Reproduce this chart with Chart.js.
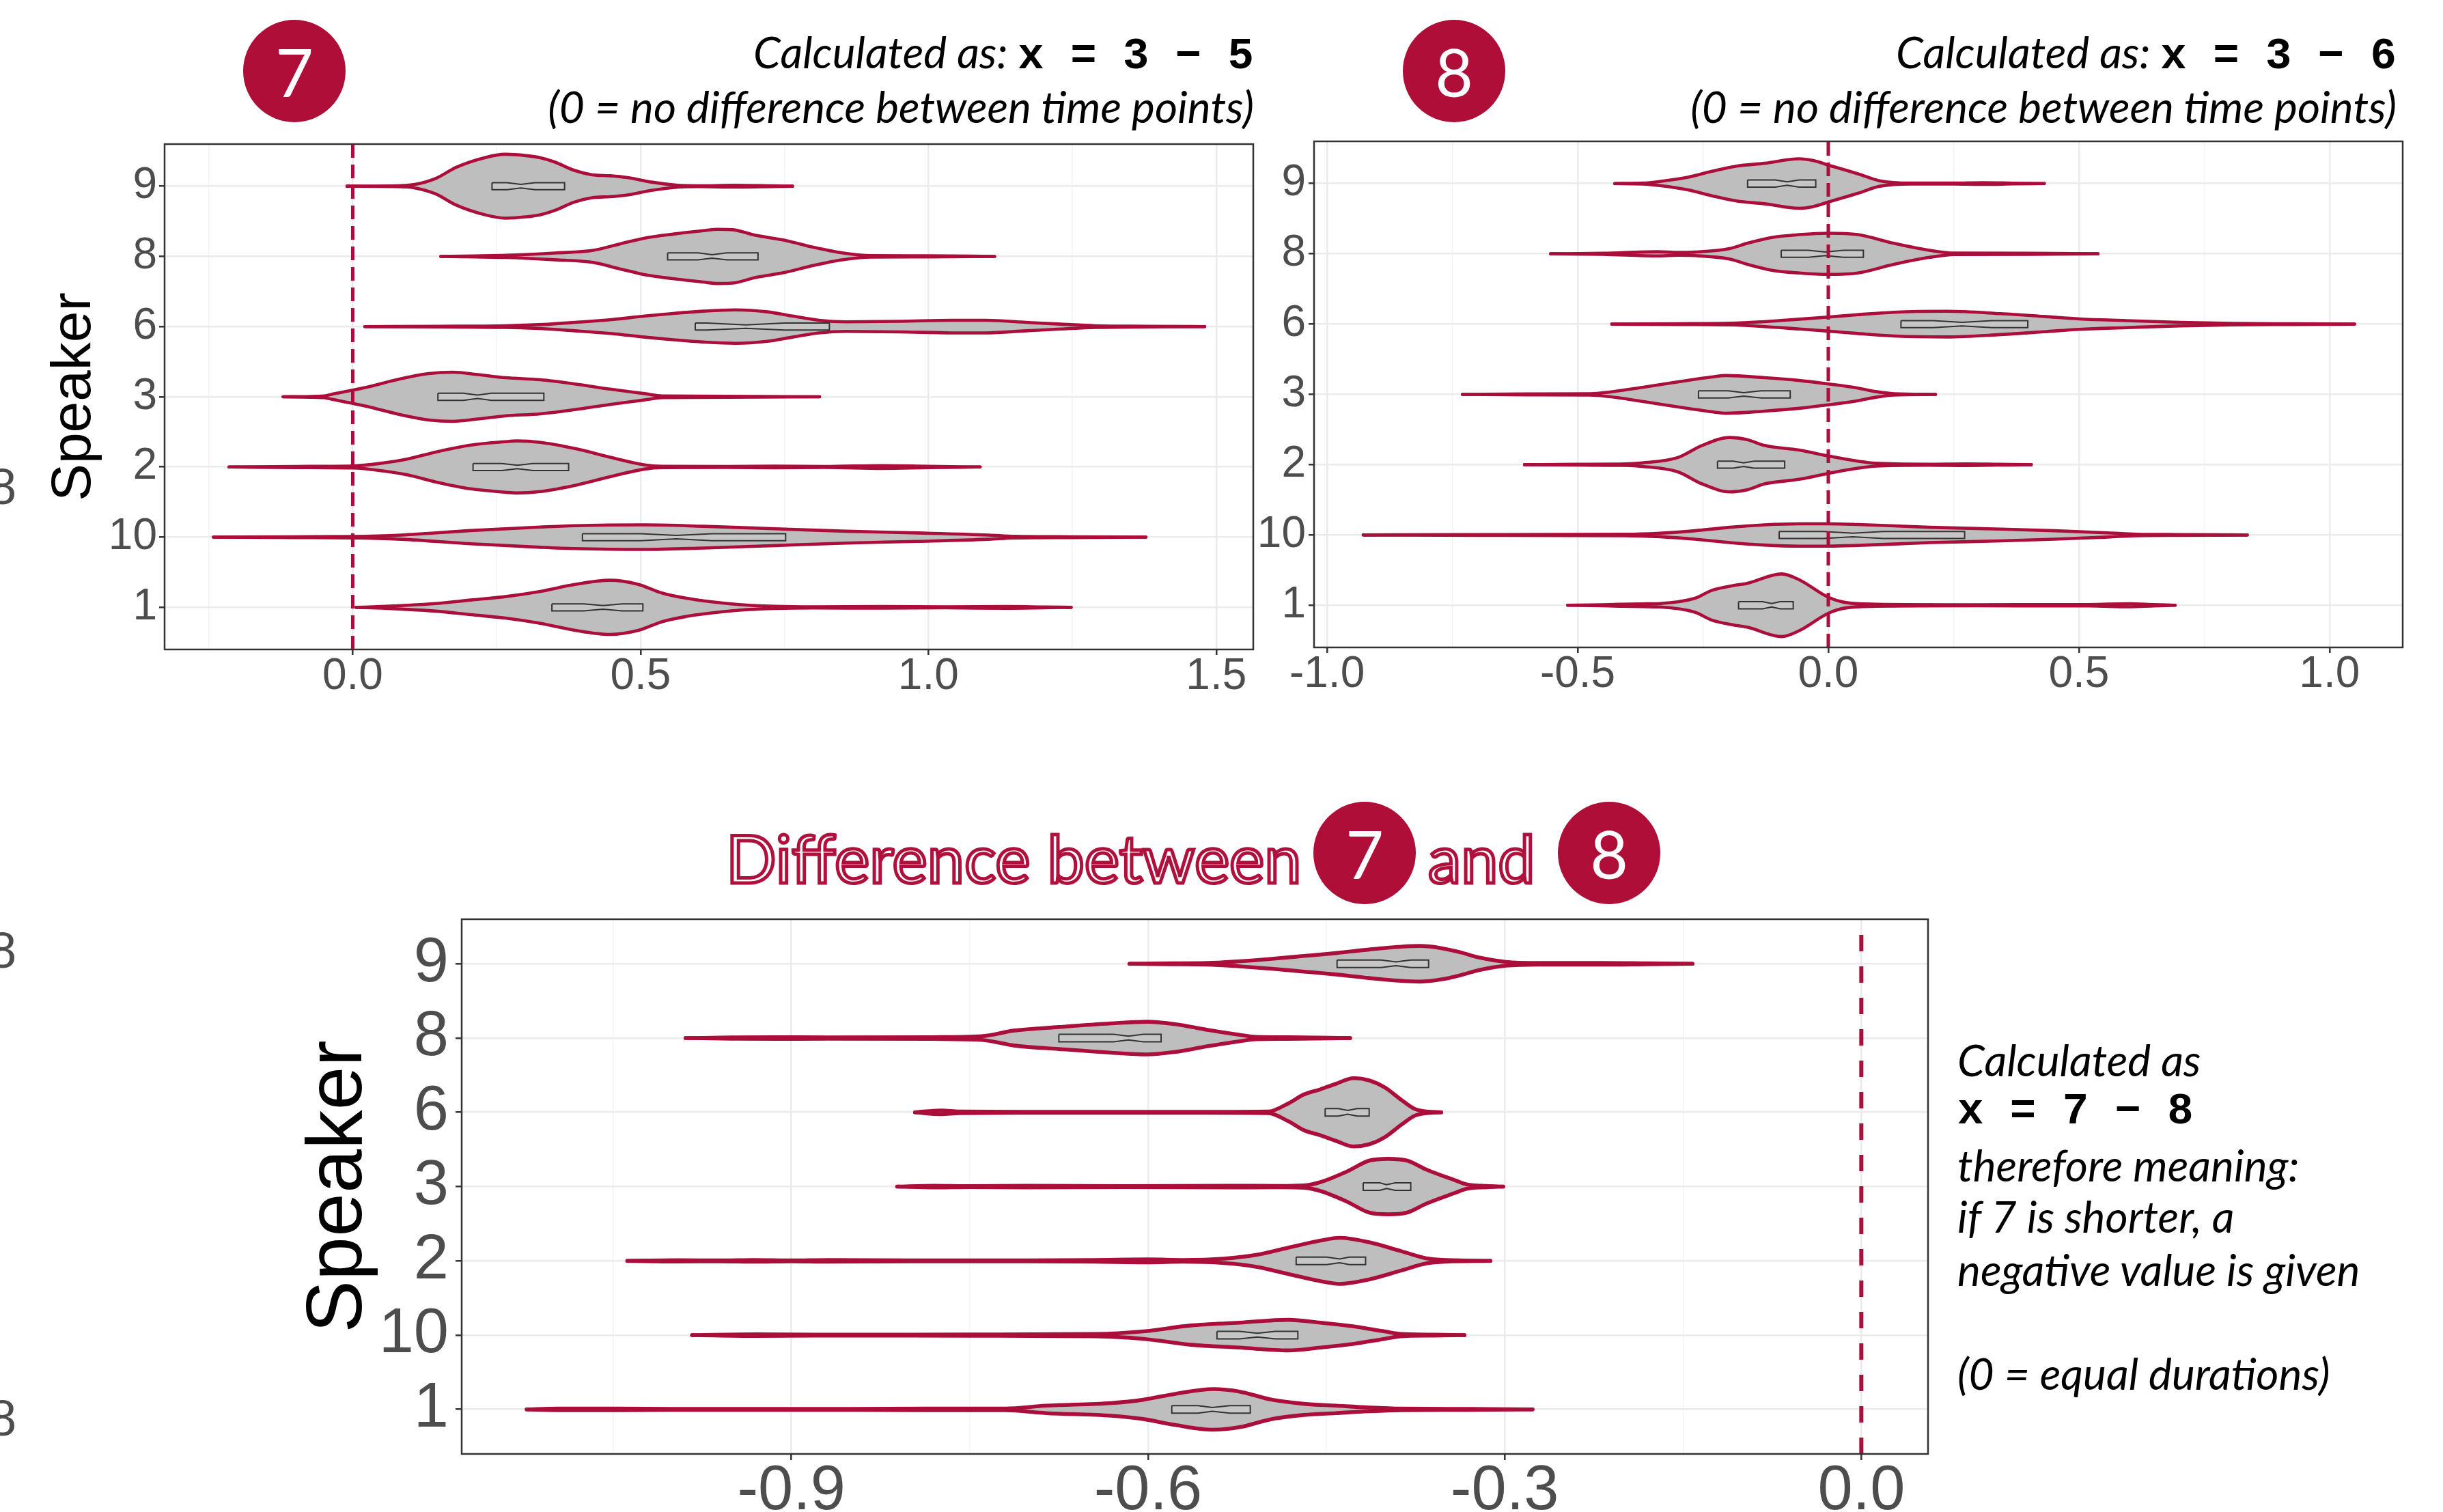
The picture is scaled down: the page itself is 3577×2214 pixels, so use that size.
<!DOCTYPE html>
<html>
<head>
<meta charset="utf-8">
<title>Speaker differences</title>
<script src="https://cdn.jsdelivr.net/npm/chart.js@4.4.1/dist/chart.umd.min.js"></script>
<style>
  html, body { margin: 0; padding: 0; background: #fff; }
  body { width: 3577px; height: 2214px; position: relative; overflow: hidden; font-family: Lato, sans-serif; }
  canvas { position: absolute; }
  .ln { position: absolute; white-space: nowrap; color: #000; }
  .ln::before { content: ''; display: inline-block; height: 1000px; vertical-align: baseline; }
  .it { font-style: italic; font-size: 64px; }
  .mono { font-family: "Liberation Mono", "Courier New", monospace; font-style: normal; font-weight: bold; font-size: 64px; }
  .badge { position: absolute; width: 150px; height: 150px; border-radius: 50%; background: #AE0E37;
           color: #fff; font: 96px Lato, sans-serif; display: flex; align-items: center; justify-content: center; }
  .outline { font-size: 97px; color: #fff; -webkit-text-stroke: 5px #B0103C; }
  .edge { font: 74px "Liberation Sans", Arial, sans-serif; color: #4D4D4D; }
</style>
</head>
<body>

<!-- top left panel header -->
<div class="badge" style="left:356px; top:29px;">7</div>
<div class="ln it" style="right:1741px; top:-900px;">Calculated as: <span class="mono">x = 3 − 5</span></div>
<div class="ln it" style="right:1741px; top:-820px;">(0 = no difference between time points)</div>

<!-- top right panel header -->
<div class="badge" style="left:2054px; top:29px;">8</div>
<div class="ln it" style="right:68px; top:-900px;">Calculated as: <span class="mono">x = 3 − 6</span></div>
<div class="ln it" style="right:68px; top:-820px;">(0 = no difference between time points)</div>

<!-- bottom title -->
<div class="ln outline" style="left:1063px; top:293px;">Difference between</div>
<div class="badge" style="left:1923px; top:1174px;">7</div>
<div class="ln outline" style="left:2091px; top:293px;">and</div>
<div class="badge" style="left:2281px; top:1174px;">8</div>

<!-- explanation next to the bottom panel -->
<div class="ln it" style="left:2866px; top:576px;">Calculated as</div>
<div class="ln mono" style="left:2866px; top:645px;">x = 7 − 8</div>
<div class="ln it" style="left:2866px; top:730px;">therefore meaning:</div>
<div class="ln it" style="left:2866px; top:805px;">if 7 is shorter, a</div>
<div class="ln it" style="left:2866px; top:883px;">negative value is given</div>
<div class="ln it" style="left:2866px; top:1035px;">(0 = equal durations)</div>

<!-- cut-off labels of a neighbouring figure on the left edge -->
<div class="ln edge" style="left:-17px; top:-262px;">8</div>
<div class="ln edge" style="left:-17px; top:417px;">8</div>
<div class="ln edge" style="left:-17px; top:1102px;">8</div>

<canvas id="c7" width="1850" height="870" style="left:0; top:180px;"></canvas>
<canvas id="c8" width="1777" height="870" style="left:1800px; top:180px;"></canvas>
<canvas id="cD" width="2460" height="924" style="left:380px; top:1290px;"></canvas>

<script>
// --- DATA ---

// y axis: speakers from bottom to top
const speakers = ['1', '10', '2', '3', '6', '8', '9'];

// x axis ticks (major get a label, minor only a thin grid line)
const ticksMajor7 = [0, 0.5, 1, 1.5];
const ticksMinor7 = [-0.25, 0.25, 0.75, 1.25];
const ticksMajor8 = [-1, -0.5, 0, 0.5, 1];
const ticksMinor8 = [-0.75, -0.25, 0.25, 0.75];
const ticksMajorD = [-0.9, -0.6, -0.3, 0];
const ticksMinorD = [-1.05, -0.75, -0.45, -0.15];

// x limits of each panel
const xRange7 = [-0.3268, 1.5643];
const xRange8 = [-1.026, 1.146];
const xRangeD = [-1.1773, 0.0561];

// violin outlines per speaker (same order as speakers): [x, half width in category units]
const violins7 = [
  [[0.006,0],[0.05,0.012],[0.084,0.025],[0.144,0.054],[0.205,0.104],[0.265,0.153],[0.326,0.228],[0.386,0.327],[0.447,0.386],[0.495,0.33],[0.538,0.203],[0.58,0.129],[0.609,0.094],[0.671,0.04],[0.733,0.015],[0.8,0.008],[0.919,0.012],[1.03,0.007],[1.136,0.013],[1.2,0.006],[1.248,0]],
  [[-0.242,0],[-0.1,0.006],[0,0.01],[0.084,0.03],[0.205,0.094],[0.326,0.144],[0.386,0.163],[0.507,0.175],[0.609,0.155],[0.733,0.12],[0.857,0.084],[0.981,0.06],[1.105,0.03],[1.149,0.012],[1.25,0.006],[1.378,0]],
  [[-0.215,0],[-0.098,0.008],[0,0.015],[0.047,0.05],[0.096,0.114],[0.144,0.213],[0.205,0.312],[0.265,0.36],[0.285,0.371],[0.326,0.35],[0.386,0.262],[0.447,0.139],[0.507,0.03],[0.538,0.01],[0.65,0.007],[0.733,0.011],[0.82,0.007],[0.919,0.02],[1,0.01],[1.09,0]],
  [[-0.121,0],[-0.05,0.012],[-0.037,0.035],[0,0.094],[0.023,0.134],[0.084,0.257],[0.132,0.33],[0.174,0.35],[0.217,0.317],[0.265,0.272],[0.326,0.243],[0.386,0.183],[0.447,0.109],[0.507,0.045],[0.538,0.012],[0.65,0.008],[0.811,0]],
  [[0.021,0],[0.15,0.005],[0.265,0.012],[0.33,0.03],[0.386,0.06],[0.45,0.1],[0.507,0.15],[0.56,0.19],[0.609,0.22],[0.665,0.238],[0.72,0.21],[0.764,0.15],[0.81,0.09],[0.857,0.068],[0.95,0.075],[1.04,0.09],[1.1,0.09],[1.17,0.06],[1.23,0.035],[1.29,0.012],[1.38,0.005],[1.48,0]],
  [[0.153,0],[0.265,0.015],[0.356,0.05],[0.416,0.084],[0.465,0.18],[0.507,0.26],[0.556,0.317],[0.609,0.366],[0.634,0.386],[0.66,0.38],[0.7,0.3],[0.75,0.23],[0.8,0.13],[0.85,0.05],[0.9,0.01],[1,0.008],[1.115,0]],
  [[-0.01,0],[0.084,0.008],[0.108,0.025],[0.144,0.11],[0.18,0.27],[0.229,0.406],[0.265,0.455],[0.301,0.436],[0.326,0.406],[0.35,0.347],[0.386,0.223],[0.416,0.163],[0.447,0.149],[0.477,0.124],[0.519,0.059],[0.562,0.015],[0.6,0.006],[0.665,0.013],[0.73,0.005],[0.764,0]]
];
const violins8 = [
  [[-0.52,0],[-0.45,0.008],[-0.371,0.02],[-0.336,0.025],[-0.266,0.1],[-0.232,0.213],[-0.19,0.28],[-0.162,0.312],[-0.093,0.446],[-0.058,0.362],[0,0.114],[0.033,0.04],[0.095,0.015],[0.3,0.008],[0.52,0.01],[0.6,0.022],[0.65,0.01],[0.692,0]],
  [[-0.928,0],[-0.7,0.006],[-0.405,0.01],[-0.336,0.025],[-0.266,0.06],[-0.197,0.109],[-0.127,0.144],[-0.058,0.159],[0,0.159],[0.059,0.149],[0.202,0.109],[0.344,0.084],[0.451,0.06],[0.558,0.03],[0.615,0.01],[0.7,0.006],[0.836,0]],
  [[-0.606,0],[-0.5,0.006],[-0.405,0.01],[-0.371,0.025],[-0.301,0.1],[-0.252,0.273],[-0.197,0.387],[-0.162,0.357],[-0.127,0.273],[-0.058,0.208],[0,0.124],[0.059,0.05],[0.095,0.02],[0.2,0.007],[0.273,0.012],[0.34,0.006],[0.405,0]],
  [[-0.73,0],[-0.6,0.006],[-0.475,0.01],[-0.44,0.03],[-0.371,0.1],[-0.301,0.178],[-0.232,0.248],[-0.204,0.268],[-0.127,0.238],[-0.058,0.198],[0,0.149],[0.059,0.09],[0.095,0.04],[0.131,0.01],[0.214,0]],
  [[-0.432,0],[-0.3,0.006],[-0.197,0.012],[-0.127,0.035],[-0.058,0.07],[0,0.1],[0.059,0.134],[0.131,0.169],[0.237,0.183],[0.344,0.149],[0.43,0.109],[0.501,0.074],[0.594,0.05],[0.701,0.025],[0.808,0.01],[0.93,0.005],[1.05,0]],
  [[-0.554,0],[-0.45,0.008],[-0.34,0.03],[-0.3,0.02],[-0.266,0.025],[-0.197,0.074],[-0.162,0.149],[-0.113,0.233],[-0.058,0.273],[0,0.293],[0.059,0.273],[0.131,0.149],[0.202,0.05],[0.252,0.01],[0.4,0.008],[0.538,0]],
  [[-0.426,0],[-0.371,0.006],[-0.336,0.03],[-0.28,0.09],[-0.232,0.174],[-0.183,0.248],[-0.127,0.288],[-0.058,0.352],[-0.03,0.327],[0,0.263],[0.059,0.139],[0.102,0.04],[0.166,0.006],[0.25,0.006],[0.309,0.012],[0.37,0.005],[0.431,0]]
];
const violinsD = [
  [[-1.1226,0],[-1.097,0.01],[-1.045,0.012],[-1,0.006],[-0.85,0.006],[-0.79,0.01],[-0.72,0.012],[-0.686,0.05],[-0.631,0.085],[-0.604,0.13],[-0.577,0.21],[-0.545,0.274],[-0.523,0.24],[-0.496,0.13],[-0.469,0.075],[-0.442,0.05],[-0.414,0.025],[-0.387,0.01],[-0.33,0.006],[-0.2766,0]],
  [[-0.9835,0],[-0.93,0.012],[-0.88,0.006],[-0.75,0.008],[-0.645,0.015],[-0.604,0.05],[-0.564,0.13],[-0.523,0.168],[-0.482,0.206],[-0.455,0.168],[-0.428,0.12],[-0.401,0.05],[-0.387,0.015],[-0.36,0.006],[-0.3338,0]],
  [[-1.038,0],[-0.996,0.008],[-0.96,0.006],[-0.931,0.012],[-0.9,0.006],[-0.869,0.012],[-0.8,0.006],[-0.7,0.007],[-0.645,0.012],[-0.6,0.02],[-0.57,0.012],[-0.536,0.03],[-0.509,0.08],[-0.482,0.177],[-0.455,0.273],[-0.439,0.31],[-0.414,0.25],[-0.387,0.13],[-0.366,0.035],[-0.349,0.01],[-0.312,0]],
  [[-0.811,0],[-0.78,0.012],[-0.75,0.006],[-0.702,0.01],[-0.62,0.006],[-0.531,0.012],[-0.49,0.008],[-0.469,0.015],[-0.455,0.06],[-0.433,0.2],[-0.414,0.35],[-0.398,0.374],[-0.382,0.35],[-0.366,0.23],[-0.342,0.086],[-0.332,0.03],[-0.315,0.008],[-0.3012,0]],
  [[-0.796,0],[-0.774,0.025],[-0.759,0.01],[-0.7,0.006],[-0.55,0.006],[-0.499,0.01],[-0.482,0.12],[-0.469,0.24],[-0.455,0.31],[-0.442,0.384],[-0.427,0.46],[-0.414,0.43],[-0.401,0.336],[-0.387,0.168],[-0.376,0.048],[-0.368,0.015],[-0.3534,0]],
  [[-0.989,0],[-0.95,0.008],[-0.915,0.012],[-0.87,0.008],[-0.78,0.012],[-0.74,0.025],[-0.713,0.1],[-0.675,0.148],[-0.631,0.197],[-0.601,0.22],[-0.577,0.187],[-0.55,0.11],[-0.523,0.043],[-0.509,0.015],[-0.482,0.01],[-0.43,0]],
  [[-0.6156,0],[-0.58,0.006],[-0.55,0.01],[-0.523,0.034],[-0.496,0.067],[-0.469,0.105],[-0.442,0.144],[-0.414,0.192],[-0.387,0.23],[-0.371,0.24],[-0.353,0.21],[-0.337,0.153],[-0.321,0.082],[-0.299,0.025],[-0.272,0.01],[-0.218,0.012],[-0.18,0.006],[-0.142,0]]
];

// notched boxes per speaker: [lower hinge, notch low, median, notch high, upper hinge]
const boxes7 = [
  [0.346, 0.401, 0.435, 0.468, 0.504],
  [0.399, 0.5, 0.562, 0.625, 0.752],
  [0.209, 0.259, 0.286, 0.313, 0.375],
  [0.148, 0.192, 0.217, 0.241, 0.332],
  [0.595, 0.615, 0.683, 0.75, 0.828],
  [0.547, 0.6, 0.624, 0.65, 0.704],
  [0.242, 0.268, 0.292, 0.317, 0.368]
];
const boxes8 = [
  [-0.179, -0.131, -0.113, -0.096, -0.07],
  [-0.098, -0.01, 0.049, 0.11, 0.272],
  [-0.221, -0.19, -0.169, -0.148, -0.087],
  [-0.259, -0.2, -0.169, -0.134, -0.076],
  [0.145, 0.209, 0.267, 0.327, 0.398],
  [-0.094, -0.04, -0.006, 0.03, 0.07],
  [-0.161, -0.106, -0.082, -0.058, -0.025]
];
const boxesD = [
  [-0.58, -0.558, -0.546, -0.531, -0.514],
  [-0.542, -0.523, -0.508, -0.493, -0.474],
  [-0.4754, -0.4497, -0.4388, -0.4307, -0.417],
  [-0.419, -0.405, -0.3995, -0.392, -0.379],
  [-0.451, -0.44, -0.432, -0.424, -0.414],
  [-0.675, -0.629, -0.6164, -0.604, -0.589],
  [-0.441, -0.404, -0.3914, -0.379, -0.364]
];

// --- STYLE ---
const RED = '#AB0E3A';
const GREY = '#BEBEBE';
const BOX_FILL = '#C6C6C6';
const BOX_LINE = '#333333';
const BOX_H = 0.05;
const TICK_FONT = '"Liberation Sans", Arial, sans-serif';

// ggplot style panel border, drawn over the data
const panelBorder = {
  id: 'panelBorder',
  afterDatasetsDraw(chart) {
    const { ctx, chartArea: a } = chart;
    ctx.save();
    ctx.strokeStyle = '#333333';
    ctx.lineWidth = 2.5;
    ctx.strokeRect(a.left, a.top, a.right - a.left, a.bottom - a.top);
    ctx.restore();
  }
};

function buildSets(violins, boxes, lw, dash) {
  const sets = [];
  violins.forEach((prof, i) => {
    const pos = i + 1;
    const line = { borderColor: RED, borderWidth: lw, pointRadius: 0, cubicInterpolationMode: 'monotone',
                   borderCapStyle: 'round', borderJoinStyle: 'round', order: 3 };
    sets.push({ ...line, data: prof.map(([x, w]) => ({ x, y: pos + w })), fill: false });
    sets.push({ ...line, data: prof.map(([x, w]) => ({ x, y: pos - w })), fill: '-1', backgroundColor: GREY });
  });
  boxes.forEach(([q1, nlo, med, nhi, q3], i) => {
    const pos = i + 1, h = BOX_H, n = BOX_H * 0.5;
    const outline = [[q1, pos + h], [nlo, pos + h], [med, pos + n], [nhi, pos + h], [q3, pos + h],
                     [q3, pos - h], [nhi, pos - h], [med, pos - n], [nlo, pos - h], [q1, pos - h], [q1, pos + h]];
    sets.push({ data: outline.map(([x, y]) => ({ x, y })), borderColor: BOX_LINE, borderWidth: 2,
                backgroundColor: BOX_FILL, fill: 'shape', pointRadius: 0, tension: 0, order: 2 });
    sets.push({ data: [{ x: med, y: pos + n }, { x: med, y: pos - n }], borderColor: BOX_LINE,
                borderWidth: 2.5, pointRadius: 0, fill: false, order: 2 });
  });
  // dashed reference line at zero
  sets.push({ data: [{ x: 0, y: 0.4 }, { x: 0, y: 7.6 }], borderColor: RED, borderWidth: dash.w,
              borderDash: dash.pattern, pointRadius: 0, fill: false, order: 1 });
  return sets;
}

function makeChart(id, p) {
  const ticks = [...p.major, ...p.minor].sort((a, b) => a - b);
  const isMajor = v => p.major.some(m => Math.abs(m - v) < 1e-9);
  return new Chart(document.getElementById(id), {
    type: 'line',
    data: { datasets: buildSets(p.violins, p.boxes, p.lw, p.dash) },
    options: {
      responsive: false,
      devicePixelRatio: 1,
      animation: false,
      events: [],
      layout: { padding: { left: 0, top: p.top, right: p.right, bottom: 0 } },
      plugins: { legend: { display: false }, tooltip: { enabled: false } },
      scales: {
        x: {
          type: 'linear', min: p.xRange[0], max: p.xRange[1],
          afterBuildTicks: s => { s.ticks = ticks.map(v => ({ value: v })); },
          afterFit: s => { s.height = p.xAxisH; },
          border: { display: false },
          grid: {
            color: c => (c.tick && isMajor(c.tick.value)) ? '#EBEBEB' : '#F3F3F3',
            lineWidth: c => (c.tick && isMajor(c.tick.value)) ? 2.6 : 1.4,
            tickColor: c => (c.tick && isMajor(c.tick.value)) ? '#333333' : 'rgba(0,0,0,0)',
            tickWidth: 2.5,
            tickLength: p.tickLen
          },
          ticks: {
            autoSkip: false, maxRotation: 0, padding: p.xPad, color: '#4D4D4D',
            font: { family: TICK_FONT, size: p.tickSize },
            callback: v => isMajor(v) ? v.toFixed(1) : ''
          }
        },
        y: {
          type: 'linear', min: 0.4, max: 7.6,
          afterBuildTicks: s => { s.ticks = speakers.map((_, i) => ({ value: i + 1 })); },
          afterFit: s => { s.width = p.yAxisW; },
          border: { display: false },
          grid: { color: '#EBEBEB', lineWidth: 2.6, tickColor: '#333333', tickWidth: 2.5, tickLength: p.tickLen },
          ticks: {
            padding: p.yPad, color: '#4D4D4D',
            // small line height so the labels do not push the panel down
            font: { family: TICK_FONT, size: p.tickSize, lineHeight: 0.4 },
            callback: v => speakers[Math.round(v) - 1]
          },
          title: {
            display: !!p.title, text: 'Speaker', color: '#000',
            font: { family: TICK_FONT, size: p.titleSize || 10 },
            padding: { top: p.titlePad || 0, bottom: 0 }
          }
        }
      }
    },
    plugins: [panelBorder]
  });
}

makeChart('c7', {
  violins: violins7, boxes: boxes7, major: ticksMajor7, minor: ticksMinor7, xRange: xRange7,
  lw: 4.6, dash: { w: 5, pattern: [20, 10] },
  top: 31, right: 15, yAxisW: 241, xAxisH: 99, tickLen: 8, xPad: -6, yPad: 3, tickSize: 64,
  title: true, titleSize: 82, titlePad: 60
});

makeChart('c8', {
  violins: violins8, boxes: boxes8, major: ticksMajor8, minor: ticksMinor8, xRange: xRange8,
  lw: 4.6, dash: { w: 5, pattern: [20, 10] },
  top: 27, right: 59, yAxisW: 124, xAxisH: 102, tickLen: 8, xPad: -6, yPad: 4, tickSize: 64,
  title: false
});

makeChart('cD', {
  violins: violinsD, boxes: boxesD, major: ticksMajorD, minor: ticksMinorD, xRange: xRangeD,
  lw: 5.6, dash: { w: 6, pattern: [24, 22] },
  top: 56, right: 17, yAxisW: 296, xAxisH: 85, tickLen: 9, xPad: -9, yPad: 10, tickSize: 92,
  title: true, titleSize: 115, titlePad: 48
});
</script>
</body>
</html>
